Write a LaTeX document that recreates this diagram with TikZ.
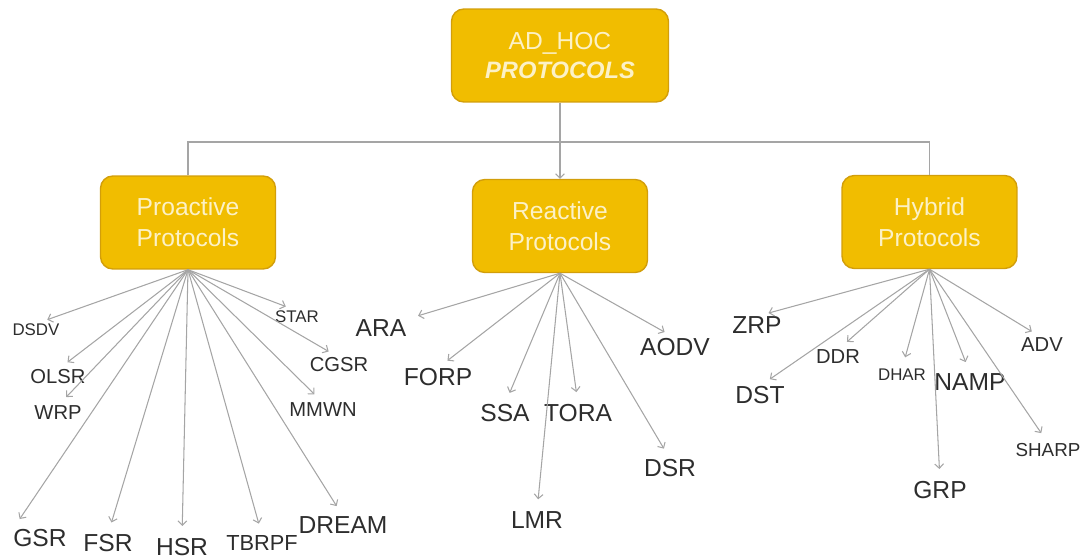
\documentclass[tikz,border=0pt]{standalone}
\usepackage{fontspec}
\setmainfont{Liberation Sans}
\usetikzlibrary{arrows.meta,positioning}

\definecolor{boxgold}{RGB}{241,189,0}
\definecolor{boxedge}{RGB}{210,158,10}
\definecolor{boxtext}{RGB}{252,241,198}
\definecolor{linkgray}{RGB}{165,165,165}
\definecolor{lbltext}{RGB}{45,45,45}

\tikzset{
  protobox/.style={draw=boxedge, line width=0.8pt, fill=boxgold, rounded corners=7pt,
    minimum width=3.5cm, minimum height=1.86cm, align=center, text=boxtext,
    font=\fontsize{14}{17.5}\selectfont},
  link/.style={draw=linkgray, line width=0.6pt},
  fan/.style={link, -{Straight Barb[length=2.5pt,width=5pt]}, shorten >=6.8pt},
  biglbl/.style={text=lbltext, inner sep=0pt, font=\fontsize{14}{16}\selectfont},
  midlbl/.style={text=lbltext, inner sep=0pt, font=\fontsize{11.5}{13}\selectfont},
  smalllbl/.style={text=lbltext, inner sep=0pt, font=\fontsize{9.6}{11}\selectfont},
}

\begin{document}
\begin{tikzpicture}[x=0.02cm, y=-0.02cm]
    \useasboundingbox (0,0) rectangle (1090,558);

    % Root and the three families
    \node[protobox, minimum width=4.34cm, font=\fontsize{14}{16.5}\selectfont] (root) at (560,55.5)
        {AD\_HOC\\{\bfseries\itshape\fontsize{13.5}{16.5}\selectfont PROTOCOLS}};
    \node[protobox] (pro) at (188,222.5) {Proactive\\Protocols};
    \node[protobox] (rea) at (560,226) {Reactive\\Protocols};
    \node[protobox] (hyb) at (929.5,222) {Hybrid\\Protocols};

    % Tree lines
    \coordinate (bus) at (560,142);
    \draw[link] (pro.north) -- (pro.north |- bus) -- (hyb.north |- bus) -- (hyb.north);
    \draw[link, -{Straight Barb[length=2.5pt,width=5pt]}] (root.south) -- (rea.north);

    % Proactive protocols
    \node[smalllbl] (dsdv) at (36,330) {DSDV};
    \node[midlbl] (olsr) at (58,377) {OLSR};
    \node[midlbl] (wrp) at (58,413) {WRP};
    \node[biglbl] (gsr) at (40,538) {GSR};
    \node[biglbl] (fsr) at (108,543) {FSR};
    \node[biglbl] (hsr) at (182,547) {HSR};
    \node[biglbl, font=\fontsize{12.4}{14}\selectfont] (tbrpf) at (262,543) {TBRPF};
    \node[biglbl] (dream) at (343,525) {DREAM};
    \node[midlbl] (mmwn) at (323,410) {MMWN};
    \node[midlbl] (cgsr) at (339,365) {CGSR};
    \node[smalllbl] (star) at (297,317) {STAR};

    \foreach \p in {dsdv,olsr,wrp,fsr,hsr,tbrpf,dream,mmwn,cgsr,star}
        \draw[fan] (pro.south) -- (\p.north);
    \draw[fan] (pro.south) -- (gsr.north west);

    % Reactive protocols
    \node[biglbl] (ara) at (381,328) {ARA};
    \node[biglbl] (forp) at (438,377) {FORP};
    \node[biglbl] (ssa) at (505,413) {SSA};
    \node[biglbl] (tora) at (578,413) {TORA};
    \node[biglbl] (lmr) at (537,520) {LMR};
    \node[biglbl] (dsr) at (670,468) {DSR};
    \node[biglbl] (aodv) at (675,347) {AODV};

    \foreach \p in {forp,ssa,tora,lmr,dsr,aodv}
        \draw[fan] (rea.south) -- (\p.north);
    \draw[fan] (rea.south) -- (ara.north east);

    % Hybrid protocols
    \node[biglbl] (zrp) at (757,325) {ZRP};
    \node[biglbl] (dst) at (760,395) {DST};
    \node[midlbl] (ddr) at (838,357) {DDR};
    \node[smalllbl] (dhar) at (902,375) {DHAR};
    \node[biglbl] (namp) at (970,382) {NAMP};
    \node[biglbl] (grp) at (940,490) {GRP};
    \node[midlbl] (adv) at (1042,345) {ADV};
    \node[midlbl, font=\fontsize{10.7}{12}\selectfont] (sharp) at (1048,450) {SHARP};

    \foreach \p in {zrp,dst,ddr,dhar,namp,grp,adv,sharp}
        \draw[fan] (hyb.south) -- (\p.north);
\end{tikzpicture}
\end{document}
